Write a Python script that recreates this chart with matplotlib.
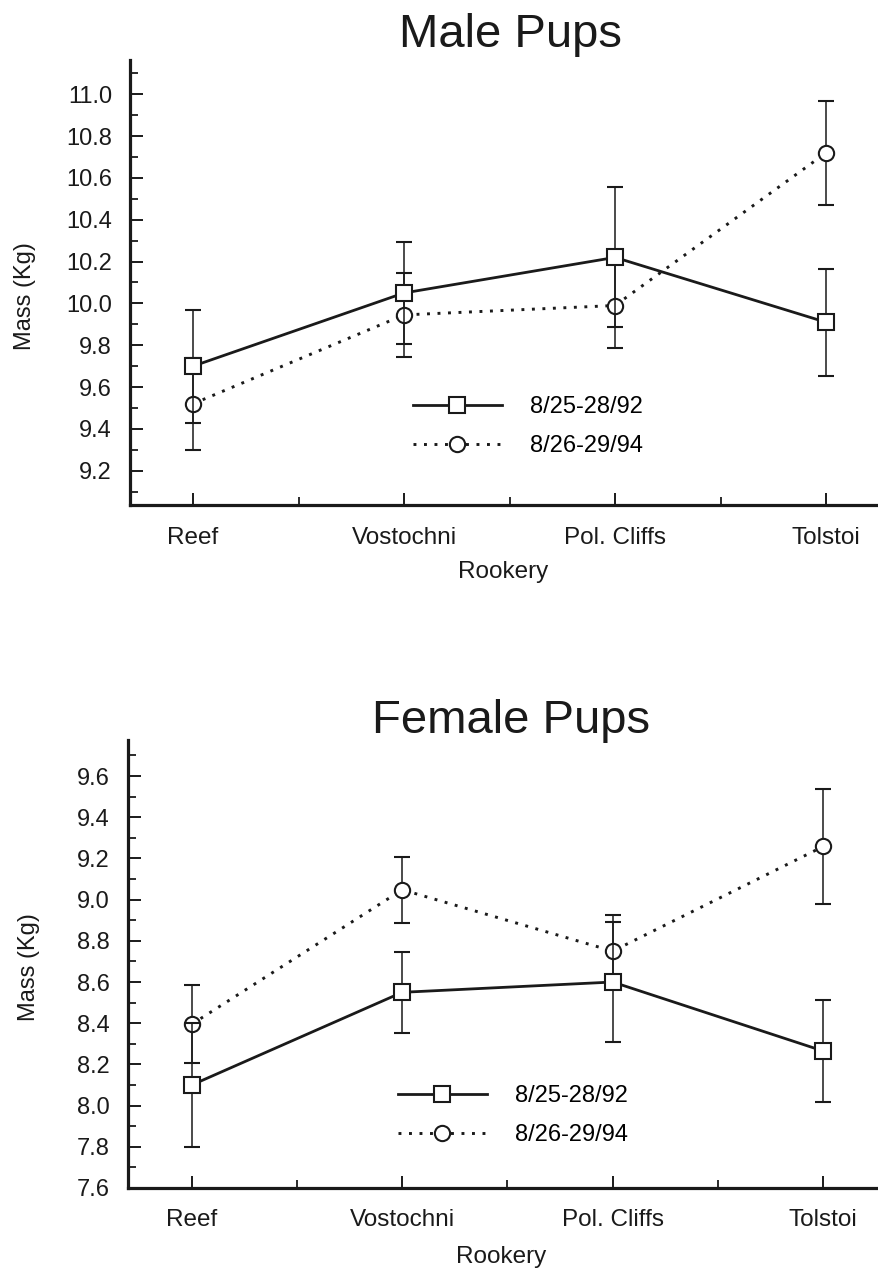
import matplotlib
matplotlib.use('Agg')
import matplotlib.pyplot as plt
from matplotlib.lines import Line2D
from matplotlib.ticker import FixedLocator, MultipleLocator

plt.rcParams['font.family'] = ['Liberation Sans', 'DejaVu Sans']

# ---------------- data ----------------
rookeries = ['Reef', 'Vostochni', 'Pol. Cliffs', 'Tolstoi']
series_labels = ['8/25-28/92', '8/26-29/94']

male_92 = [9.70, 10.05, 10.22, 9.91]
male_92_err = [0.27, 0.245, 0.335, 0.255]
male_94 = [9.52, 9.945, 9.99, 10.72]
male_94_err = [0.22, 0.20, 0.205, 0.25]

female_92 = [8.10, 8.55, 8.60, 8.265]
female_92_err = [0.30, 0.197, 0.293, 0.246]
female_94 = [8.395, 9.048, 8.75, 9.258]
female_94_err = [0.19, 0.16, 0.173, 0.28]

male_yticks = [9.2, 9.4, 9.6, 9.8, 10.0, 10.2, 10.4, 10.6, 10.8, 11.0]
female_yticks = [7.6, 7.8, 8.0, 8.2, 8.4, 8.6, 8.8, 9.0, 9.2, 9.4, 9.6]

INK = '#1a1a1a'
W, H = 879, 1274

fig = plt.figure(figsize=(W / 100, H / 100), dpi=100)
fig.patch.set_facecolor('white')


def px_axes(left, top, right, bottom):
    return fig.add_axes([left / W, 1 - bottom / H, (right - left) / W, (bottom - top) / H])


style92 = dict(color=INK, lw=2.0, ls='-', marker='s', ms=11, mfc='white', mec=INK, mew=1.5)
style94 = dict(color=INK, lw=2.1, ls=(0, (1, 2.6)), marker='o', ms=11, mfc='white', mec=INK, mew=1.5)


def panel(ax, y92, e92, y94, e94, yticks, ylim, xlim, xpad, leg_anchor, xlab_pos, ylab_pos):
    x = list(range(len(rookeries)))
    ax.errorbar(x, y92, yerr=e92, elinewidth=1.1, capsize=6, capthick=1.1,
                ecolor=INK, zorder=4, **style92)
    ax.errorbar(x, y94, yerr=e94, elinewidth=1.1, capsize=6, capthick=1.1,
                ecolor=INK, zorder=3, **style94)
    ax.set_xlim(*xlim)
    ax.set_ylim(*ylim)
    ax.yaxis.set_major_locator(FixedLocator(yticks))
    ax.set_yticklabels([f'{v:.1f}' for v in yticks])
    ax.yaxis.set_minor_locator(MultipleLocator(0.1))
    ax.set_xticks(x)
    ax.set_xticklabels(rookeries)
    ax.xaxis.set_minor_locator(FixedLocator([0.5, 1.5, 2.5]))
    for s in ['top', 'right']:
        ax.spines[s].set_visible(False)
    for s in ['left', 'bottom']:
        ax.spines[s].set_linewidth(2.3)
        ax.spines[s].set_color(INK)
    ax.tick_params(axis='y', which='major', direction='in', length=9.5, width=1.4,
                   pad=13, labelsize=17, colors=INK)
    ax.tick_params(axis='y', which='minor', direction='in', length=6, width=1.3, colors=INK)
    ax.tick_params(axis='x', which='major', direction='in', length=9, width=1.4,
                   pad=xpad, labelsize=17.5, colors=INK)
    ax.tick_params(axis='x', which='minor', direction='in', length=6, width=1.3, colors=INK)

    ax.set_xlabel('Rookery', fontsize=17.5, color=INK)
    ax.xaxis.label.set_verticalalignment('center')
    ax.xaxis.set_label_coords(*xlab_pos)
    ax.set_ylabel('Mass (Kg)', fontsize=17, color=INK)
    ax.yaxis.label.set_verticalalignment('center')
    ax.yaxis.set_label_coords(*ylab_pos)

    handles = [Line2D([], [], **style92), Line2D([], [], **style94)]
    ax.legend(handles, series_labels, loc='center left', bbox_to_anchor=leg_anchor,
              frameon=False, fontsize=17, handlelength=3.75, handletextpad=1.2,
              labelspacing=0.72, borderpad=0, borderaxespad=0, numpoints=1)


ax1 = px_axes(130, 60, 879, 505)
panel(ax1, male_92, male_92_err, male_94, male_94_err, male_yticks,
      (9.036, 11.164), (-0.2986, 3.251), 15.5,
      ((413 - 130) / 749, (505 - 426.5) / 445),
      ((503 - 130) / 749, (505 - 572) / 445),
      ((25 - 130) / 749, (505 - 296) / 445))

ax2 = px_axes(128, 740, 879, 1188)
panel(ax2, female_92, female_92_err, female_94, female_94_err, female_yticks,
      (7.6, 9.775), (-0.3026, 3.265), 15,
      ((398 - 128) / 751, (1188 - 1115.5) / 448),
      ((501 - 128) / 751, (1188 - 1257) / 448),
      ((29 - 128) / 751, (1188 - 967) / 448))

fig.text(511 / W, 1 - 47 / H, 'Male Pups', ha='center', va='baseline', fontsize=34, color=INK)
fig.text(511 / W, 1 - 733 / H, 'Female Pups', ha='center', va='baseline', fontsize=34, color=INK)

fig.savefig('out.png', dpi=100, facecolor='white')
